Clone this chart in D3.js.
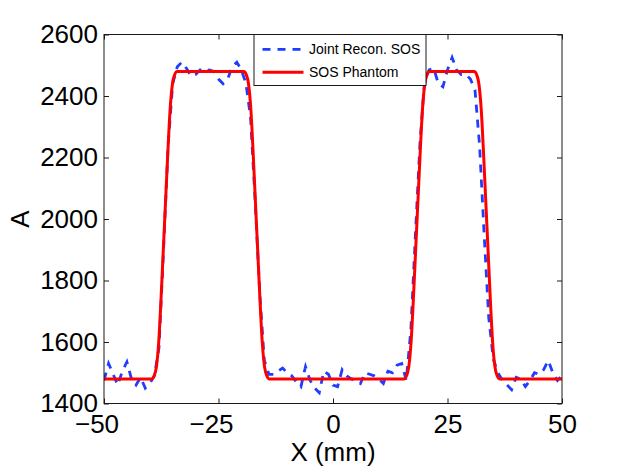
<!DOCTYPE html>
<html>
<head>
<meta charset="utf-8">
<script src="https://cdn.jsdelivr.net/npm/d3@7"></script>
<style>
  html, body { margin: 0; padding: 0; background: #fff; }
  svg { display: block; font-family: "Liberation Sans", Arial, Helvetica, sans-serif; }
</style>
</head>
<body>
<svg id="chart" width="622" height="468"></svg>
<script>
// ---- data ----
const xTicks = [-50, -25, 0, 25, 50];
const yTicks = [1400, 1600, 1800, 2000, 2200, 2400, 2600];
const xLabel = "X (mm)";
const yLabel = "A";
const seriesNames = ["Joint Recon. SOS", "SOS Phantom"];

// Joint reconstruction (dashed blue), sampled every 1 mm
const reconX = [
  -50,-49,-48,-47,-46,-45,-44,-43,-42,-41,-40,-39,-38,-37,-36,-35,-34,-33,-32,-31,
  -30,-29,-28,-27,-26,-25,-24,-23,-22,-21,-20,-19,-18,-17,-16,-15,-14,-13,-12,-11,
  -10,-9,-8,-7,-6,-5,-4,-3,-2,-1,0,1,2,3,4,5,6,7,8,9,
  10,11,12,13,14,15,16,17,18,19,20,21,22,23,24,25,26,27,28,29,
  30,31,32,33,34,35,36,37,38,39,40,41,42,43,44,45,46,47,48,49,50
];
const reconY = [
  1475,1530,1495,1460,1505,1535,1480,1460,1485,1450,1465,1490,1580,1900,2240,2440,2495,2510,2490,2465,
  2470,2485,2480,2485,2480,2455,2440,2455,2495,2510,2485,2440,2330,2060,1760,1540,1495,1495,1505,1515,
  1500,1490,1470,1455,1520,1475,1450,1435,1505,1495,1460,1455,1510,1490,1480,1475,1465,1500,1495,1490,
  1480,1465,1505,1500,1525,1530,1475,1640,1950,2250,2450,2485,2490,2440,2430,2485,2525,2485,2470,2470,
  2455,2420,2240,1950,1680,1545,1500,1475,1460,1445,1485,1480,1455,1475,1500,1495,1510,1540,1500,1475,1490
];

// SOS phantom (solid red)
const phantomX = [
  -50, -39.55, -39.05, -38.55, -38.05, -37.55, -37.05, -36.55, -36.05, -35.55, -35.05, -34.55, -34.05,
  -19.45, -18.95, -18.45, -17.95, -17.45, -16.95, -16.45, -15.95, -15.45, -14.95, -14.45, -13.95,
  15.55, 16.05, 16.55, 17.05, 17.55, 18.05, 18.55, 19.05, 19.55, 20.05, 20.55, 21.05,
  30.85, 31.35, 31.85, 32.35, 32.85, 33.35, 33.85, 34.35, 34.85, 35.35, 35.85, 36.35, 50
];
const phantomY = [
  1480, 1480, 1490, 1520, 1600, 1740, 1900, 2060, 2220, 2360, 2440, 2470, 2480,
  2480, 2470, 2440, 2360, 2220, 2060, 1900, 1740, 1600, 1520, 1490, 1480,
  1480, 1490, 1520, 1600, 1740, 1900, 2060, 2220, 2360, 2440, 2470, 2480,
  2480, 2470, 2440, 2360, 2220, 2060, 1900, 1740, 1600, 1520, 1490, 1480, 1480
];

// ---- layout ----
const plot = { left: 104, right: 562, top: 34.5, bottom: 403.5 };
const axisColor = "#1a1a1a";
const blue = "#1f3dff";
const red = "#ff0000";

const svg = d3.select("#chart");

const x = d3.scaleLinear().domain([-50, 50]).range([plot.left, plot.right]);
const y = d3.scaleLinear().domain([1400, 2600]).range([plot.bottom, plot.top]);

svg.append("defs").append("clipPath").attr("id", "clip")
  .append("rect")
  .attr("x", plot.left).attr("y", plot.top)
  .attr("width", plot.right - plot.left).attr("height", plot.bottom - plot.top);

svg.append("rect")
  .attr("x", plot.left).attr("y", plot.top)
  .attr("width", plot.right - plot.left).attr("height", plot.bottom - plot.top)
  .attr("fill", "#fff");

const fmtNum = d => (d < 0 ? "\u2212" + Math.abs(d) : String(d));

const gx = svg.append("g")
  .attr("transform", `translate(0,${plot.bottom})`)
  .call(d3.axisBottom(x).tickValues(xTicks).tickSizeInner(-5).tickSizeOuter(0).tickPadding(11).tickFormat(fmtNum));
gx.selectAll("text").attr("dx", d => d < 0 ? -7.5 : 0);
const gxt = svg.append("g")
  .attr("transform", `translate(0,${plot.top})`)
  .call(d3.axisTop(x).tickValues(xTicks).tickSizeInner(-5).tickSizeOuter(0).tickFormat(""));
const gy = svg.append("g")
  .attr("transform", `translate(${plot.left},0)`)
  .call(d3.axisLeft(y).tickValues(yTicks).tickSizeInner(-5).tickSizeOuter(0).tickPadding(6).tickFormat(d3.format("d")));
const gyr = svg.append("g")
  .attr("transform", `translate(${plot.right},0)`)
  .call(d3.axisRight(y).tickValues(yTicks).tickSizeInner(-5).tickSizeOuter(0).tickFormat(""));

[gx, gxt, gy, gyr].forEach(g => {
  g.select(".domain").remove();
  g.selectAll("line").attr("stroke", axisColor).attr("stroke-width", 1);
  g.selectAll("text")
    .attr("fill", "#000")
    .style("font-family", '"Liberation Sans", Arial, sans-serif')
    .style("font-size", "26px");
});

const lineGen = d3.line().x(d => x(d[0])).y(d => y(d[1]));
const reconData = reconX.map((v, i) => [v, reconY[i]]);
const phantomData = phantomX.map((v, i) => [v, phantomY[i]]);

const dataG = svg.append("g").attr("clip-path", "url(#clip)");
dataG.append("path")
  .datum(reconData)
  .attr("d", lineGen)
  .attr("fill", "none")
  .attr("stroke", blue)
  .attr("stroke-width", 2.8)
  .attr("stroke-dasharray", "8,7");
dataG.append("path")
  .datum(phantomData)
  .attr("d", lineGen.curve(d3.curveMonotoneX))
  .attr("fill", "none")
  .attr("stroke", red)
  .attr("stroke-width", 3)
  .attr("stroke-linejoin", "round");

svg.append("rect")
  .attr("x", plot.left).attr("y", plot.top)
  .attr("width", plot.right - plot.left).attr("height", plot.bottom - plot.top)
  .attr("fill", "none").attr("stroke", axisColor).attr("stroke-width", 1);

svg.append("text")
  .attr("x", (plot.left + plot.right) / 2)
  .attr("y", 461)
  .attr("text-anchor", "middle")
  .style("font-size", "26px")
  .attr("fill", "#000")
  .text(xLabel);
svg.append("text")
  .attr("transform", `translate(29,${(plot.top + plot.bottom) / 2}) rotate(-90)`)
  .attr("text-anchor", "middle")
  .style("font-size", "26px")
  .attr("fill", "#000")
  .text(yLabel);

const legend = { x: 254, y: 34.5, w: 172, h: 51 };
const lg = svg.append("g");
lg.append("rect")
  .attr("x", legend.x).attr("y", legend.y)
  .attr("width", legend.w).attr("height", legend.h)
  .attr("fill", "#fff").attr("stroke", axisColor).attr("stroke-width", 1);
const entries = [
  { name: seriesNames[0], color: blue, dash: "8,7", width: 2.8, cy: 49.3 },
  { name: seriesNames[1], color: red, dash: null, width: 3, cy: 72.3 }
];
entries.forEach(e => {
  lg.append("line")
    .attr("x1", 262.5).attr("x2", 303.5)
    .attr("y1", e.cy).attr("y2", e.cy)
    .attr("stroke", e.color).attr("stroke-width", e.width)
    .attr("stroke-dasharray", e.dash);
  lg.append("text")
    .attr("x", 309).attr("y", e.cy + 5)
    .style("font-size", "14px")
    .attr("fill", "#000")
    .text(e.name);
});
</script>
</body>
</html>
